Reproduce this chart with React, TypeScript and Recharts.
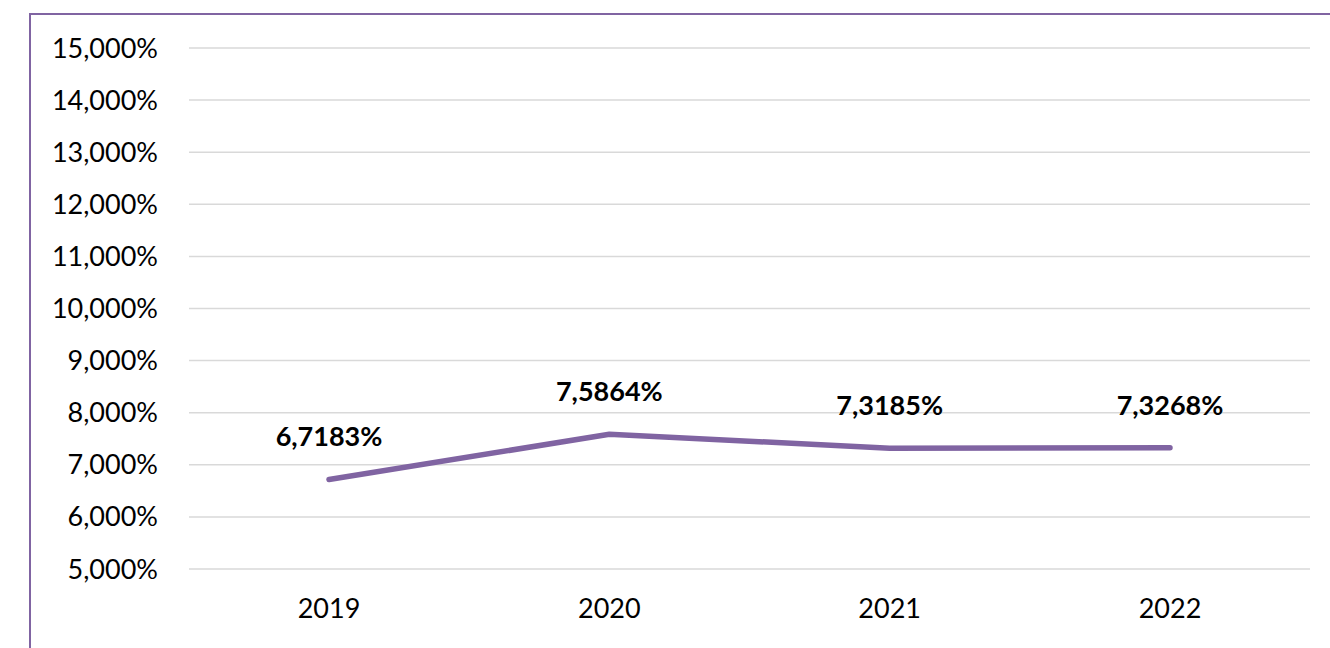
import React from "react";
import { LineChart, Line, XAxis, YAxis, CartesianGrid, LabelList } from "recharts";

const years = ["2019", "2020", "2021", "2022"];
const rates = [6.7183, 7.5864, 7.3185, 7.3268];
const yTicks = [5, 6, 7, 8, 9, 10, 11, 12, 13, 14, 15];

const data = years.map((y, i) => ({ year: y, rate: rates[i] }));

const FONT = "Lato, 'Open Sans', sans-serif";
const PURPLE = "#8064A2";

const fmtTick = (v: number) => v.toFixed(3).replace(".", ",") + "%";
const fmtLabel = (v: number) => v.toFixed(4).replace(".", ",") + "%";

const ValueLabel = (props: any) => {
  const { x, y, value } = props;
  return (
    <text x={x} y={y - 33} textAnchor="middle" fontFamily={FONT} fontSize={27} fontWeight={700} fill="#000">
      {fmtLabel(value)}
    </text>
  );
};

export default function App() {
  return (
    <div style={{ position: "absolute", left: 0, top: 0, width: 1330, height: 648, overflow: "hidden", background: "#fff" }}>
      <div
        style={{
          position: "absolute",
          left: 29,
          top: 13,
          width: 1400,
          height: 700,
          border: `2px solid ${PURPLE}`,
          boxSizing: "border-box",
        }}
      />
      <div style={{ position: "absolute", left: 0, top: 0 }}>
        <LineChart width={1330} height={648} data={data} margin={{ top: 48, right: 20, bottom: 49, left: 0 }}>
          <CartesianGrid vertical={false} stroke="#D9D9D9" strokeWidth={1.5} />
          <XAxis
            dataKey="year"
            height={30}
            padding={{ left: 140, right: 140 }}
            axisLine={false}
            tickLine={false}
            tickSize={0}
            tickMargin={30}
            tick={{ fontFamily: FONT, fontSize: 27, fill: "#000" }}
          />
          <YAxis
            domain={[5, 15]}
            ticks={yTicks}
            interval={0}
            width={189}
            axisLine={false}
            tickLine={false}
            tickSize={0}
            tickMargin={31}
            tickFormatter={fmtTick}
            tick={{ fontFamily: FONT, fontSize: 27, fill: "#000" }}
          />
          <Line
            type="linear"
            dataKey="rate"
            stroke={PURPLE}
            strokeWidth={5.5}
            strokeLinecap="round"
            strokeLinejoin="round"
            dot={false}
            activeDot={false}
            isAnimationActive={false}
          >
            <LabelList dataKey="rate" content={<ValueLabel />} />
          </Line>
        </LineChart>
      </div>
    </div>
  );
}
